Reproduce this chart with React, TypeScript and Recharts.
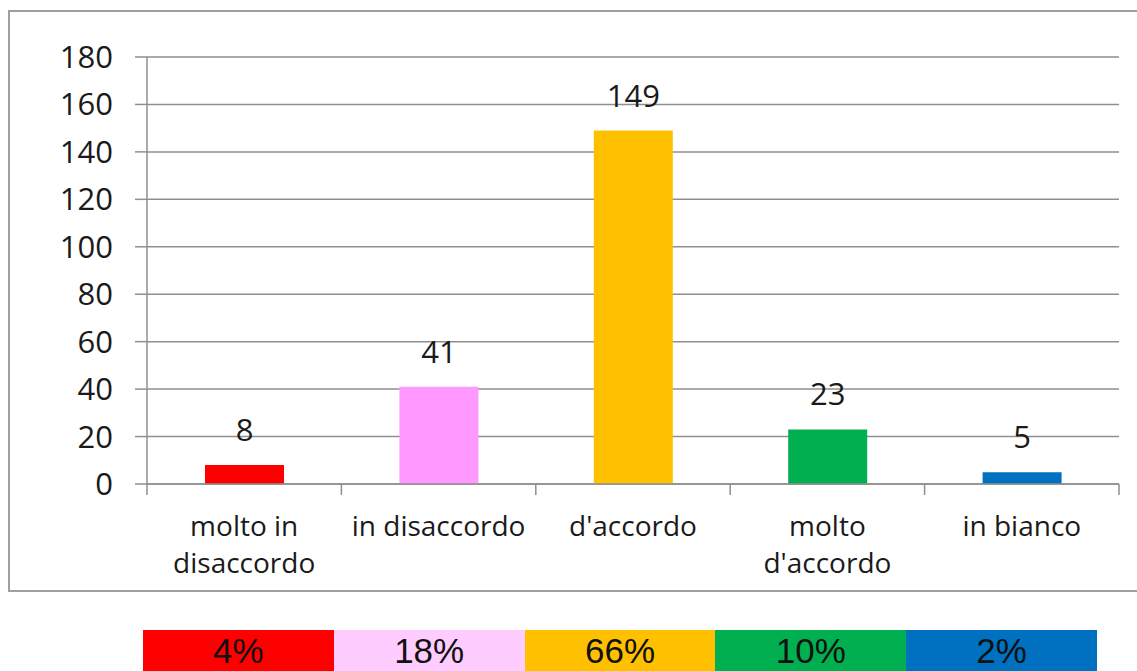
import { BarChart, Bar, XAxis, YAxis, CartesianGrid, Cell, LabelList } from "recharts";

const categories = ["molto in disaccordo", "in disaccordo", "d'accordo", "molto d'accordo", "in bianco"];
const categoryLines = [["molto in", "disaccordo"], ["in disaccordo"], ["d'accordo"], ["molto", "d'accordo"], ["in bianco"]];
const counts = [8, 41, 149, 23, 5];
const percentLabels = ["4%", "18%", "66%", "10%", "2%"];
const barColors = ["#ff0000", "#ff99ff", "#ffc000", "#00b050", "#0070c0"];
const cellColors = ["#ff0000", "#ffccff", "#ffc000", "#00b050", "#0070c0"];
const yTicks = [0, 20, 40, 60, 80, 100, 120, 140, 160, 180];

const data = categories.map((name, i) => ({ name, value: counts[i] }));

const CHART_W = 1127;
const CHART_H = 578;
const Y_AXIS_W = 137;
const RIGHT = 18;
const BAND = (CHART_W - Y_AXIS_W - RIGHT) / categories.length;
const GRAY = "#8f8f8f";
const FONT = "'Open Sans', sans-serif";

const CategoryTick = (props: any) => {
  const { x, y, index } = props;
  const lines = categoryLines[index] || [];
  return (
    <g>
      <line x1={x - BAND / 2} y1={y} x2={x - BAND / 2} y2={y + 11} stroke={GRAY} strokeWidth={1.5} />
      {index === categories.length - 1 && (
        <line x1={x + BAND / 2} y1={y} x2={x + BAND / 2} y2={y + 11} stroke={GRAY} strokeWidth={1.5} />
      )}
      <text textAnchor="middle" fill="#1a1a1a" fontSize={28} fontFamily={FONT}>
        {lines.map((t, i) => (
          <tspan key={i} x={x} y={y + 52 + i * 37}>
            {t}
          </tspan>
        ))}
      </text>
    </g>
  );
};

export default function App() {
  return (
    <div style={{ position: "relative", width: 1137, height: 671, overflow: "hidden", fontFamily: FONT }}>
      <style>{"body{margin:0;overflow:hidden}"}</style>
      <div
        style={{
          position: "absolute",
          left: 8,
          top: 10,
          width: 1129,
          height: 582,
          boxSizing: "border-box",
          border: "2px solid #a0a0a0",
          borderRight: "none",
        }}
      >
        <BarChart
          width={CHART_W}
          height={CHART_H}
          data={data}
          margin={{ top: 45, right: RIGHT, left: 0, bottom: 0 }}
        >
          <CartesianGrid vertical={false} stroke={GRAY} strokeWidth={1.5} />
          <XAxis
            dataKey="name"
            height={106}
            interval={0}
            stroke={GRAY}
            strokeWidth={1.5}
            tickLine={false}
            tickSize={0}
            tickMargin={0}
            tick={<CategoryTick />}
          />
          <YAxis
            width={Y_AXIS_W}
            domain={[0, 180]}
            ticks={yTicks}
            interval={0}
            stroke={GRAY}
            strokeWidth={1.5}
            tickSize={12}
            tickMargin={22}
            tick={{ fontSize: 31, fill: "#1a1a1a", fontFamily: FONT }}
          />
          <Bar dataKey="value" barSize={79} isAnimationActive={false}>
            {data.map((_, i) => (
              <Cell key={i} fill={barColors[i]} />
            ))}
            <LabelList dataKey="value" position="top" offset={24} fill="#1a1a1a" fontSize={31} fontFamily={FONT} />
          </Bar>
        </BarChart>
      </div>
      <div style={{ position: "absolute", left: 143, top: 630, display: "flex" }}>
        {percentLabels.map((p, i) => (
          <div
            key={i}
            style={{
              width: 190.8,
              height: 41,
              background: cellColors[i],
              textAlign: "center",
              fontFamily: "'Liberation Sans', Arial, sans-serif",
              fontSize: 35,
              lineHeight: "34px",
              paddingTop: 4,
              boxSizing: "border-box",
              color: "#111",
            }}
          >
            {p}
          </div>
        ))}
      </div>
    </div>
  );
}
